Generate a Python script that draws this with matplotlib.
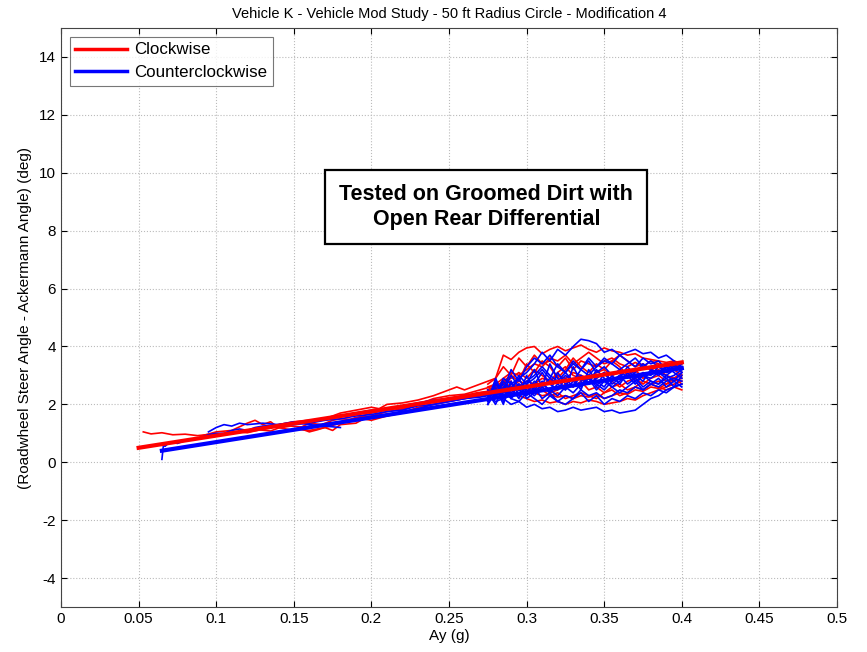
import numpy as np
import matplotlib.pyplot as plt

plt.rcParams['font.family'] = ['Liberation Sans', 'DejaVu Sans']
plt.rcParams['axes.unicode_minus'] = False

# --- low / mid lateral acceleration part of the runs ---
# Clockwise runs (red)
cw_low = [
    ([0.053, 0.058, 0.065, 0.072, 0.08, 0.088, 0.095, 0.10, 0.107, 0.115, 0.12, 0.128, 0.135, 0.14,
      0.148, 0.155, 0.16, 0.168, 0.175, 0.18, 0.188, 0.195, 0.20, 0.208, 0.215, 0.22, 0.228, 0.235,
      0.24, 0.248, 0.255, 0.26, 0.268, 0.275, 0.28],
     [1.05, 0.98, 1.02, 0.95, 0.97, 0.92, 0.96, 0.93, 1.0, 1.05, 1.02, 1.12, 1.08, 1.18, 1.25, 1.22,
      1.35, 1.3, 1.45, 1.5, 1.48, 1.62, 1.7, 1.78, 1.85, 1.82, 1.95, 2.05, 2.1, 2.2, 2.25, 2.3, 2.4,
      2.45, 2.5]),
    ([0.09, 0.10, 0.11, 0.12, 0.125, 0.13, 0.135, 0.14, 0.15, 0.155, 0.16, 0.165, 0.17, 0.18, 0.19,
      0.2, 0.21, 0.22, 0.23, 0.24, 0.25, 0.26, 0.27, 0.28, 0.29],
     [0.9, 1.05, 1.1, 1.35, 1.45, 1.3, 1.4, 1.2, 1.1, 1.15, 1.05, 1.12, 1.2, 1.35, 1.55, 1.6, 1.75,
      1.85, 2.0, 2.2, 2.3, 2.35, 2.5, 2.65, 2.8]),
    ([0.12, 0.13, 0.14, 0.15, 0.16, 0.17, 0.18, 0.19, 0.2, 0.205, 0.21, 0.22, 0.23, 0.24, 0.25,
      0.255, 0.26, 0.27, 0.28, 0.285, 0.29],
     [1.1, 1.2, 1.3, 1.4, 1.45, 1.5, 1.7, 1.8, 1.9, 1.85, 2.0, 2.05, 2.15, 2.3, 2.5, 2.6, 2.5, 2.7,
      2.9, 3.3, 3.0]),
    ([0.15, 0.16, 0.17, 0.175, 0.18, 0.19, 0.195, 0.2, 0.21, 0.22, 0.225, 0.23, 0.24, 0.25, 0.26,
      0.27, 0.275],
     [1.15, 1.1, 1.2, 1.1, 1.3, 1.35, 1.5, 1.45, 1.6, 1.7, 1.8, 1.9, 2.0, 2.1, 2.2, 2.3, 2.35]),
]
# Counterclockwise runs (blue)
ccw_low = [
    ([0.065, 0.066, 0.067, 0.07, 0.075, 0.08, 0.085, 0.09, 0.095, 0.10, 0.105, 0.11, 0.115, 0.12,
      0.125, 0.13, 0.14, 0.15, 0.16, 0.17, 0.18, 0.19, 0.2, 0.21, 0.22, 0.23, 0.24, 0.25, 0.26,
      0.27, 0.28],
     [0.1, 0.6, 0.55, 0.7, 0.65, 0.75, 0.8, 0.85, 0.95, 1.0, 1.0, 1.1, 1.15, 1.1, 1.2, 1.25, 1.3,
      1.35, 1.4, 1.5, 1.6, 1.7, 1.8, 1.85, 1.95, 2.05, 2.15, 2.2, 2.3, 2.35, 2.4]),
    ([0.095, 0.1, 0.105, 0.11, 0.115, 0.12, 0.13, 0.14, 0.15, 0.16, 0.17, 0.18],
     [1.05, 1.2, 1.3, 1.25, 1.35, 1.3, 1.35, 1.3, 1.4, 1.3, 1.25, 1.2]),
    ([0.13, 0.14, 0.15, 0.16, 0.17, 0.18, 0.19, 0.2, 0.21, 0.22, 0.23, 0.24, 0.25, 0.26, 0.27,
      0.28],
     [1.2, 1.25, 1.3, 1.35, 1.45, 1.5, 1.6, 1.65, 1.75, 1.8, 1.95, 2.0, 2.1, 2.2, 2.25, 2.35]),
    ([0.2, 0.21, 0.22, 0.23, 0.24, 0.25, 0.26, 0.27, 0.28, 0.29],
     [1.55, 1.6, 1.75, 1.85, 2.0, 2.1, 2.2, 2.3, 2.35, 2.5]),
]

# --- high lateral acceleration cluster (all read on the same Ay steps) ---
cluster_x = [0.275, 0.28, 0.285, 0.29, 0.295, 0.30, 0.305, 0.31, 0.315, 0.32, 0.325, 0.33, 0.335,
             0.34, 0.345, 0.35, 0.355, 0.36, 0.365, 0.37, 0.375, 0.38, 0.385, 0.39, 0.395, 0.40]
cw_cluster = [
    [2.7, 2.9, 3.7, 3.55, 3.8, 3.95, 4.0, 3.75, 3.9, 4.0, 3.85, 3.95, 4.05, 3.9, 3.8, 3.95, 3.85,
     3.8, 3.7, 3.75, 3.6, 3.55, 3.5, 3.45, 3.5, 3.4],
    [2.5, 2.6, 2.8, 3.0, 3.6, 3.3, 3.7, 3.4, 3.5, 3.3, 3.6, 3.2, 3.5, 3.4, 3.3, 3.5, 3.6, 3.4, 3.3,
     3.45, 3.3, 3.5, 3.4, 3.3, 3.35, 3.3],
    [2.4, 2.5, 2.6, 2.7, 2.6, 2.8, 2.7, 2.9, 2.8, 3.0, 2.9, 3.1, 3.0, 2.9, 3.1, 3.2, 3.0, 3.1, 3.2,
     3.1, 3.3, 3.2, 3.3, 3.4, 3.3, 3.45],
    [2.3, 2.4, 2.5, 2.4, 2.3, 2.2, 2.1, 2.15, 2.05, 2.1, 2.0, 2.1, 2.05, 2.15, 2.1, 2.0, 2.05, 2.1,
     2.2, 2.15, 2.3, 2.4, 2.5, 2.6, 2.7, 2.8],
    [2.4, 2.5, 2.6, 2.55, 2.7, 2.5, 2.4, 2.3, 2.35, 2.25, 2.3, 2.2, 2.3, 2.25, 2.35, 2.2, 2.3, 2.4,
     2.35, 2.5, 2.45, 2.6, 2.55, 2.7, 2.8, 2.9],
    [2.5, 2.6, 2.8, 2.9, 3.1, 2.9, 3.2, 3.0, 2.8, 3.1, 3.3, 3.0, 2.9, 2.7, 2.9, 3.1, 2.8, 2.6, 2.8,
     2.9, 2.7, 2.9, 3.0, 2.8, 2.9, 2.7],
    [2.45, 2.55, 2.7, 3.0, 2.8, 3.4, 3.1, 3.5, 3.3, 2.9, 3.2, 3.6, 3.3, 3.1, 3.4, 3.2, 3.5, 3.3,
     3.0, 3.2, 2.9, 3.1, 3.2, 3.0, 2.9, 3.1],
    [2.5, 2.6, 2.7, 2.6, 2.8, 2.7, 2.5, 2.6, 2.4, 2.5, 2.7, 2.6, 2.8, 2.5, 2.6, 2.4, 2.6, 2.7, 2.5,
     2.6, 2.8, 2.7, 2.6, 2.5, 2.6, 2.5],
    [2.6, 2.7, 2.9, 3.1, 3.0, 3.2, 3.4, 3.3, 3.6, 3.5, 3.7, 3.4, 3.6, 3.8, 3.6, 3.4, 3.5, 3.7, 3.5,
     3.3, 3.4, 3.2, 3.3, 3.1, 3.2, 3.0],
    [2.35, 2.45, 2.4, 2.6, 2.5, 2.6, 2.4, 2.5, 2.3, 2.4, 2.2, 2.3, 2.4, 2.3, 2.2, 2.4, 2.5, 2.3,
     2.4, 2.6, 2.5, 2.7, 2.8, 2.7, 2.9, 3.0],
]
ccw_cluster = [
    [2.3, 2.5, 2.4, 2.7, 2.9, 3.1, 3.4, 3.8, 3.5, 3.9, 3.7, 4.0, 4.25, 4.2, 4.1, 3.8, 3.9, 3.7, 3.8,
     3.9, 3.75, 3.8, 3.6, 3.7, 3.5, 3.3],
    [2.3, 2.1, 2.2, 2.0, 2.1, 1.9, 2.0, 1.85, 1.9, 1.75, 1.8, 1.9, 1.8, 1.85, 1.9, 1.75, 1.8, 1.7,
     1.75, 1.8, 2.0, 2.2, 2.3, 2.5, 2.6, 2.7],
    [2.2, 2.6, 2.0, 2.8, 2.3, 3.0, 2.5, 2.8, 2.4, 3.1, 2.7, 2.9, 2.5, 3.2, 2.8, 2.6, 3.0, 2.7, 3.1,
     2.8, 3.0, 2.9, 3.1, 3.0, 3.2, 3.3],
    [2.1, 2.9, 2.3, 2.6, 2.2, 2.7, 3.2, 2.6, 3.4, 2.9, 2.5, 3.3, 2.8, 3.0, 2.6, 3.1, 2.7, 2.9, 3.3,
     3.0, 2.8, 3.2, 3.1, 2.9, 3.0, 3.2],
    [2.0, 2.4, 2.7, 2.2, 2.5, 2.3, 2.6, 2.2, 2.4, 2.1, 2.3, 2.2, 2.5, 2.3, 2.4, 2.2, 2.3, 2.5, 2.4,
     2.6, 2.5, 2.7, 2.6, 2.8, 2.9, 2.8],
    [2.4, 2.2, 2.8, 2.5, 3.0, 2.7, 2.9, 3.2, 2.9, 3.4, 3.1, 3.5, 3.2, 3.6, 3.3, 3.5, 3.4, 3.7, 3.5,
     3.3, 3.6, 3.4, 3.5, 3.2, 3.3, 3.2],
    [2.3, 2.7, 2.4, 3.0, 2.6, 2.4, 2.8, 2.6, 2.9, 2.7, 3.0, 2.8, 2.6, 2.9, 2.7, 2.5, 2.8, 3.0, 2.7,
     2.9, 2.6, 2.8, 2.7, 2.9, 2.6, 2.7],
    [2.2, 2.5, 2.3, 2.4, 2.7, 2.5, 2.3, 2.6, 2.4, 2.7, 2.5, 2.8, 3.0, 2.7, 2.9, 3.1, 2.8, 3.0, 3.2,
     2.9, 3.1, 3.0, 3.3, 3.1, 3.2, 3.4],
    [2.1, 2.3, 2.5, 2.2, 2.1, 2.4, 2.2, 2.0, 2.3, 2.1, 2.0, 2.2, 2.4, 2.1, 2.3, 2.0, 2.2, 2.1, 2.3,
     2.2, 2.4, 2.3, 2.5, 2.4, 2.6, 3.0],
    [2.5, 2.3, 2.9, 2.7, 2.5, 2.8, 3.0, 3.3, 3.0, 2.8, 3.1, 2.8, 3.2, 3.5, 3.1, 3.3, 3.0, 3.2, 2.9,
     3.1, 3.4, 3.2, 3.0, 3.3, 3.1, 2.9],
    [2.0, 2.8, 2.1, 2.5, 2.9, 2.4, 2.7, 3.1, 2.7, 2.5, 2.9, 2.6, 3.0, 2.7, 3.2, 2.9, 2.6, 2.8, 3.0,
     2.7, 3.0, 2.8, 2.7, 3.0, 2.8, 3.1],
    [2.4, 2.0, 2.6, 2.3, 2.7, 2.2, 2.4, 2.7, 2.5, 2.3, 2.6, 2.4, 2.7, 2.9, 2.5, 2.8, 2.6, 2.4, 2.6,
     2.8, 2.5, 2.7, 2.9, 2.6, 2.8, 2.6],
    [2.2, 2.7, 2.5, 3.2, 2.8, 3.3, 3.6, 3.4, 3.7, 3.3, 3.1, 3.4, 3.2, 3.0, 3.3, 3.6, 3.4, 3.2, 3.4,
     3.6, 3.3, 3.5, 3.3, 3.2, 3.4, 3.1],
]

# linear fits
cw_fit_x = [0.05, 0.40]
cw_fit_y = [0.5, 3.45]
ccw_fit_x = [0.065, 0.40]
ccw_fit_y = [0.4, 3.25]

xticks = [0, 0.05, 0.1, 0.15, 0.2, 0.25, 0.3, 0.35, 0.4, 0.45, 0.5]
xticklabels = ['0', '0.05', '0.1', '0.15', '0.2', '0.25', '0.3', '0.35', '0.4', '0.45', '0.5']
yticks = [-4, -2, 0, 2, 4, 6, 8, 10, 12, 14]

RED = '#ff0000'
BLUE = '#0000ff'

fig = plt.figure(figsize=(8.67, 6.52), dpi=100)
ax = fig.add_axes([0.0704, 0.069, 0.895, 0.888])

for x, y in cw_low:
    ax.plot(x, y, color=RED, lw=1.2)
for y in cw_cluster:
    ax.plot(cluster_x, y, color=RED, lw=1.2)
for x, y in ccw_low:
    ax.plot(x, y, color=BLUE, lw=1.2)
for y in ccw_cluster:
    ax.plot(cluster_x, y, color=BLUE, lw=1.2)
ax.plot(ccw_fit_x, ccw_fit_y, color=BLUE, lw=3)
ax.plot(cw_fit_x, cw_fit_y, color=RED, lw=3)

# legend handles
ax.plot([], [], color=RED, lw=2.5, label='Clockwise')
ax.plot([], [], color=BLUE, lw=2.5, label='Counterclockwise')
leg = ax.legend(loc='upper left', fontsize=12.2, frameon=True, fancybox=False,
                borderaxespad=0.5, handlelength=3.05, handletextpad=0.4,
                labelspacing=0.45, borderpad=0.35)
leg.get_frame().set_edgecolor('#555555')
leg.get_frame().set_linewidth(0.8)

ax.set_xlim(0, 0.5)
ax.set_ylim(-5, 15)
ax.set_xticks(xticks)
ax.set_xticklabels(xticklabels)
ax.set_yticks(yticks)
ax.tick_params(direction='in', labelsize=11, length=4)
ax.tick_params(top=True, right=True)
ax.grid(True, linestyle=':', color='#bbbbbb', lw=0.8)
for s in ax.spines.values():
    s.set_linewidth(0.8)
    s.set_color('#444444')

ax.set_title('Vehicle K - Vehicle Mod Study - 50 ft Radius Circle - Modification 4', fontsize=10.5, pad=7)
ax.set_xlabel('Ay (g)', fontsize=11, labelpad=2)
ax.set_ylabel('(Roadwheel Steer Angle - Ackermann Angle) (deg)', fontsize=11, labelpad=5)

ax.text(0.274, 8.83, 'Tested on Groomed Dirt with\nOpen Rear Differential', ha='center', va='center',
        fontsize=15.5, fontweight='bold', linespacing=1.25,
        bbox=dict(boxstyle='square,pad=0.65', facecolor='white', edgecolor='black', lw=1.6))

fig.savefig('out.png', dpi=100)
